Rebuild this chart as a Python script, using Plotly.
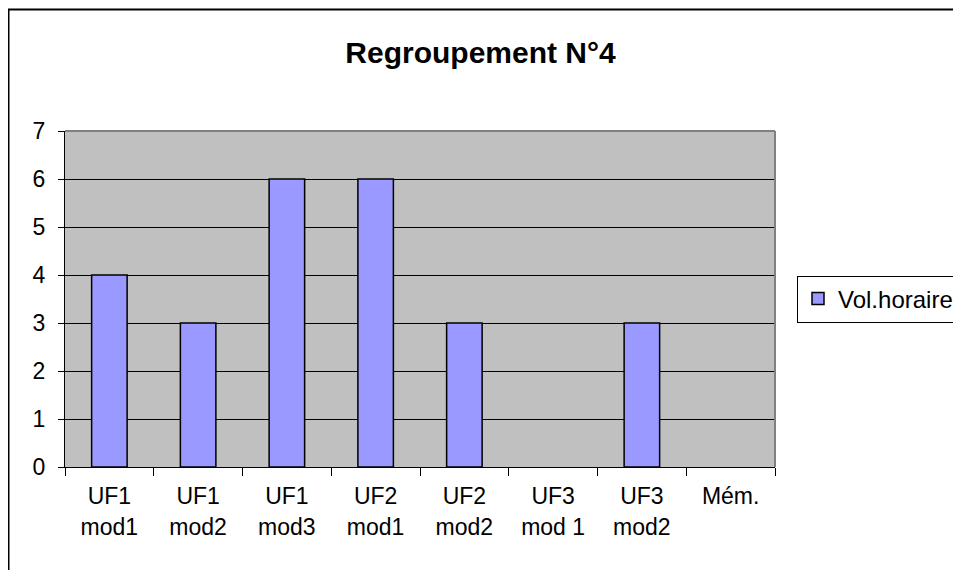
import plotly.graph_objects as go

categories = ["UF1 mod1", "UF1 mod2", "UF1 mod3", "UF2 mod1", "UF2 mod2", "UF3 mod 1", "UF3 mod2", "Mém."]
label_line1 = ["UF1", "UF1", "UF1", "UF2", "UF2", "UF3", "UF3", "Mém."]
label_line2 = ["mod1", "mod2", "mod3", "mod1", "mod2", "mod 1", "mod2", ""]
values = [4, 3, 6, 6, 3, 0, 3, 0]
series_name = "Vol.horaire"
title_text = "Regroupement N°4"

FONT = "Liberation Sans, Arial, sans-serif"

W, H = 945, 562
L, T = 57, 123
PW, PH = 710, 336
R = W - L - PW
B = H - T - PH

fig = go.Figure()
fig.add_trace(go.Bar(
    x=categories, y=values, name=series_name,
    marker=dict(color="#9999FF",
                line=dict(color="black", width=[1.5 if v > 0 else 0 for v in values])),
    showlegend=True,
))
# invisible helper trace for the second label line axis
fig.add_trace(go.Scatter(x=[0], y=[0], xaxis="x2", mode="markers",
                         marker=dict(opacity=0), showlegend=False, hoverinfo="skip"))

fig.update_layout(
    width=W, height=H,
    margin=dict(l=L, r=R, t=T, b=B, autoexpand=False),
    paper_bgcolor="white",
    plot_bgcolor="#C0C0C0",
    bargap=0.6,
    font=dict(family=FONT, color="black", size=22),
    title=dict(text="<b>" + title_text + "</b>", x=0.5, xref="container", xanchor="center",
               y=1 - 44 / H, yref="container", yanchor="middle",
               font=dict(size=30, family=FONT, color="black")),
    legend=dict(x=789 / W, xref="container", xanchor="left",
                y=1 - 291 / H, yref="container", yanchor="middle",
                bordercolor="black", borderwidth=1, bgcolor="white",
                font=dict(size=24, family=FONT)),
    xaxis=dict(type="category", categoryorder="array", categoryarray=categories,
               tickvals=categories, ticktext=label_line1,
               tickson="boundaries", ticks="outside", ticklen=8, tickcolor="black",
               showline=True, linecolor="black", linewidth=1,
               showgrid=False, ticklabelstandoff=8,
               tickfont=dict(size=23, family=FONT)),
    xaxis2=dict(overlaying="x", anchor="y", side="bottom", range=[-0.5, 7.5],
                tickvals=list(range(len(label_line2))), ticktext=label_line2,
                showgrid=False, showline=False, ticks="", zeroline=False,
                ticklabelstandoff=44, tickfont=dict(size=23, family=FONT)),
    yaxis=dict(range=[0, 7], dtick=1, ticks="outside", ticklen=6, tickcolor="black",
               showline=True, linecolor="black", linewidth=1,
               showgrid=True, gridcolor="black", gridwidth=1, zeroline=False,
               ticklabelstandoff=8, tickfont=dict(size=23, family=FONT)),
    shapes=[
        dict(type="line", xref="paper", yref="paper", x0=0, x1=1, y0=1, y1=1,
             line=dict(color="#808080", width=2), layer="above"),
        dict(type="line", xref="paper", yref="paper", x0=1, x1=1, y0=0, y1=1,
             line=dict(color="#808080", width=2), layer="above"),
        dict(type="rect", xref="paper", yref="paper",
             x0=(0.5 - L) / PW, x1=(W + 40 - L) / PW,
             y0=-(B + 40) / PH, y1=(PH + T - 1.5) / PH,
             line=dict(color="black", width=2), layer="above"),
    ],
)

fig.write_html("out.html")
